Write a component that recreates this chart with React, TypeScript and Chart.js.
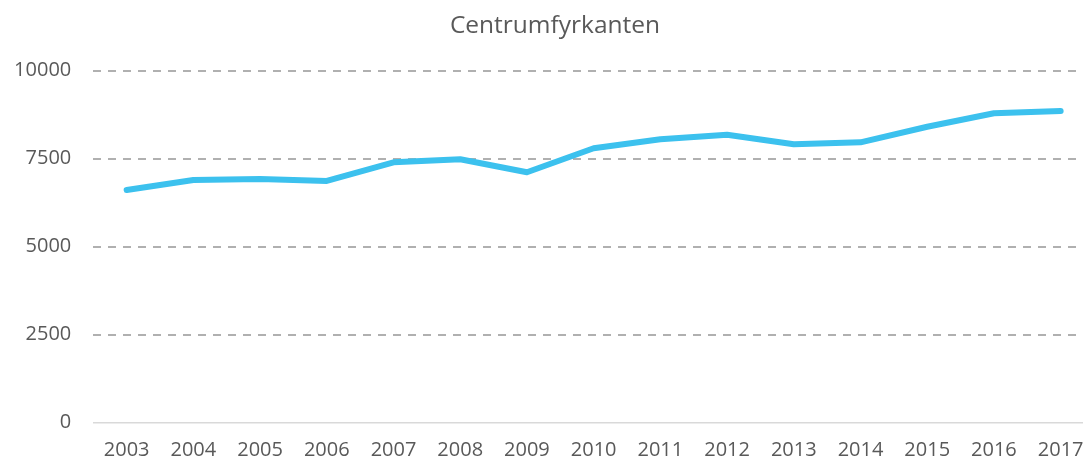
import React, { useEffect, useRef } from "react";
import { Chart, registerables } from "chart.js";

Chart.register(...registerables);

const title = "Centrumfyrkanten";
const years = ["2003","2004","2005","2006","2007","2008","2009","2010","2011","2012","2013","2014","2015","2016","2017"];
const values = [6607, 6891, 6919, 6863, 7393, 7479, 7110, 7791, 8047, 8177, 7905, 7961, 8404, 8785, 8850];
const yMin = 0;
const yMax = 10000;
const yStep = 2500;

export default function App() {
  const ref = useRef<HTMLCanvasElement | null>(null);
  useEffect(() => {
    if (!ref.current) return;
    const font = "'Open Sans', 'Noto Sans', sans-serif";
    const chart = new Chart(ref.current, {
      type: "line",
      data: {
        labels: years,
        datasets: [
          {
            data: values,
            borderColor: "#3CC1EE",
            borderWidth: 6,
            borderCapStyle: "round",
            borderJoinStyle: "round",
            pointRadius: 0,
            tension: 0,
            fill: false,
          },
        ],
      },
      options: {
        animation: false,
        responsive: false,
        layout: { padding: { left: 16, right: 16, top: 0, bottom: 0 } },
        plugins: {
          legend: { display: false },
          tooltip: { enabled: false },
          title: {
            display: true,
            text: title,
            color: "#595959",
            font: { family: font, size: 24.5, weight: "normal" },
            padding: { top: 11, bottom: 30.1 },
          },
        },
        scales: {
          x: {
            offset: true,
            grid: { display: false, drawTicks: false },
            border: { display: true, color: "#d9d9d9", width: 1.5 },
            ticks: { color: "#595959", font: { family: font, size: 20 }, padding: 16, maxRotation: 0, autoSkip: false },
            afterFit: (s: any) => { s.height = 40.3; },
          },
          y: {
            min: yMin,
            max: yMax,
            ticks: {
              stepSize: yStep,
              color: "#595959",
              font: { family: font, size: 20 },
              padding: 22,
              callback: (v: any) => String(v),
            },
            grid: {
              drawTicks: false,
              color: (c: any) => (c.tick && c.tick.value === 0 ? "rgba(0,0,0,0)" : "#b0b0b0"),
              lineWidth: 2,
            },
            border: { display: false, dash: [8, 7] },
            afterFit: (s: any) => { s.width = 77.3; },
          },
        },
      },
    });
    return () => chart.destroy();
  }, []);
  return (
    <div style={{ position: "absolute", left: 0, top: 0, width: 1083, height: 463, overflow: "hidden", background: "#fff" }}>
      <canvas ref={ref} width={1110} height={463} style={{ width: 1110, height: 463, display: "block" }} />
    </div>
  );
}
